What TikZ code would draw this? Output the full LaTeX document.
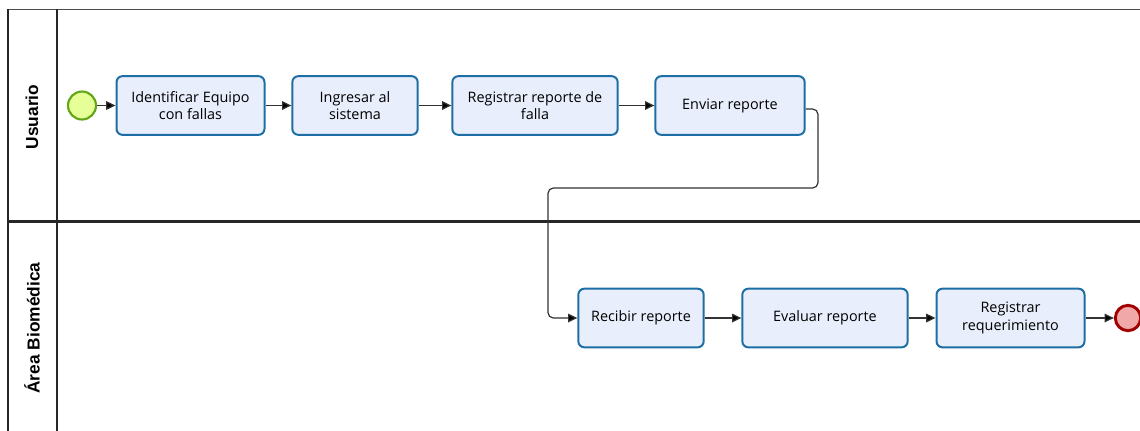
\documentclass[tikz,border=0pt]{standalone}
\usepackage{fontspec}
\setmainfont{Open Sans}
\newfontfamily\lanefont{Liberation Sans}
\usetikzlibrary{arrows.meta}
\definecolor{taskfill}{HTML}{E9EEFC}
\definecolor{taskline}{HTML}{1C6EA4}
\definecolor{startfill}{HTML}{E6FF97}
\definecolor{startline}{HTML}{62A716}
\definecolor{endfill}{HTML}{F0A8A8}
\definecolor{endline}{HTML}{A00000}
\definecolor{flowline}{HTML}{333333}
\tikzset{
  task/.style={draw=taskline, fill=taskfill, line width=1.5pt, rounded corners=4.5pt,
    align=center, font=\fontsize{10.8}{13}\selectfont, inner sep=0pt},
  startev/.style={circle, draw=startline, fill=startfill, line width=1.6pt, minimum size=21pt, inner sep=0pt},
  endev/.style={circle, draw=endline, fill=endfill, line width=2.2pt, minimum size=19pt, inner sep=0pt},
  flow/.style={draw=flowline, line width=0.9pt, -{Triangle[length=7pt,width=6.5pt,fill=black]}},
  lane/.style={rotate=90, font=\lanefont\bfseries\fontsize{13}{15}\selectfont},
  poolline/.style={draw=black!85, line width=1pt}
}
\begin{document}
\begin{tikzpicture}[x=0.75pt, y=-0.75pt]
\useasboundingbox (0,0) rectangle (1140,430);
\clip (0,0) rectangle (1140,430);
% pool and lanes
\draw[poolline, draw=black!70, line width=1.2pt] (8,9.5) -- (1150,9.5);
\draw[poolline] (8,9) -- (8,440);
\draw[poolline] (57,9) -- (57,440);
\draw[poolline, line width=1.6pt] (8,221.5) -- (1150,221.5);
\node[lane] (l1) at (32,117) {Usuario};
\node[lane] (l2) at (32,328) {Área Biomédica};
% events and tasks
\node[startev] (s) at (82,105.5) {};
\node[task, minimum width=111pt, minimum height=44pt] (t1) at (190.5,105.5) {Identificar Equipo\\con fallas};
\node[task, minimum width=94pt, minimum height=44pt] (t2) at (355,105.5) {Ingresar al\\sistema};
\node[task, minimum width=124pt, minimum height=44pt] (t3) at (535,105.5) {Registrar reporte de\\falla};
\node[task, minimum width=112pt, minimum height=44pt] (t4) at (730,105.5) {Enviar reporte};
\node[task, minimum width=94pt, minimum height=44pt] (t5) at (641,318) {Recibir reporte};
\node[task, minimum width=124pt, minimum height=44pt] (t6) at (825,318) {Evaluar reporte};
\node[task, minimum width=111pt, minimum height=44pt] (t7) at (1010.5,318) {Registrar\\requerimiento};
\node[endev] (e) at (1128,318) {};
\coordinate (c1) at (818,188);
% sequence flows
\draw[flow] (s) -- (t1);
\draw[flow] (t1) -- (t2);
\draw[flow] (t2) -- (t3);
\draw[flow] (t3) -- (t4);
\draw[flow, rounded corners=4pt] (t4.east |- 0,109) -| (c1) -| (548,318) -- (t5.west);
\draw[flow] (t5) -- (t6);
\draw[flow] (t6) -- (t7);
\draw[flow] (t7) -- (e);
\end{tikzpicture}
\end{document}
